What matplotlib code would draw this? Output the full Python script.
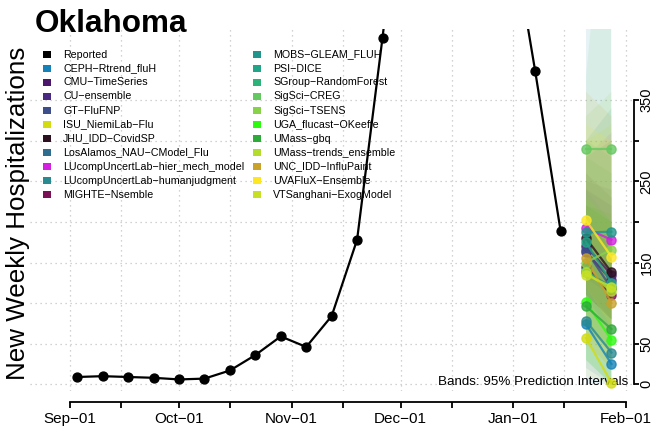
import numpy as np
import matplotlib
matplotlib.use("Agg")
import matplotlib.pyplot as plt
import matplotlib.dates as mdates
from matplotlib.patches import Rectangle

plt.rcParams['font.family'] = ['Liberation Sans', 'DejaVu Sans']

# ---- observed weekly hospitalizations (weeks ending Saturday) ----
reported_dates = np.arange(np.datetime64('2022-09-03'), np.datetime64('2023-01-15'), np.timedelta64(7, 'D'))
reported_values = [9, 10, 9, 8, 6, 7, 17, 36, 59, 46, 84, 178, 427,
                   690, 780, 720, 640, 573, 386, 189]

# ---- forecasts: two horizons ----
forecast_dates = np.array(['2023-01-21', '2023-01-28'], dtype='datetime64[D]')

models = ["CEPH−Rtrend_fluH", "CMU−TimeSeries", "CU−ensemble", "GT−FluFNP",
          "ISU_NiemiLab−Flu", "JHU_IDD−CovidSP", "LosAlamos_NAU−CModel_Flu",
          "LUcompUncertLab−hier_mech_model", "LUcompUncertLab−humanjudgment",
          "MIGHTE−Nsemble", "MOBS−GLEAM_FLUH", "PSI−DICE", "SGroup−RandomForest",
          "SigSci−CREG", "SigSci−TSENS", "UGA_flucast−OKeeffe", "UMass−gbq",
          "UMass−trends_ensemble", "UNC_IDD−InfluPaint", "UVAFluX−Ensemble",
          "VTSanghani−ExogModel"]

model_colors = ["#1482b8", "#4b176b", "#4a2a80", "#3d4e8a", "#d2dc10", "#2c1020",
                "#2f6d8e", "#d21fe0", "#2a8a92", "#7a1055", "#21958b", "#22a486",
                "#2db37a", "#64c860", "#88d24a", "#2cfb10", "#2eaa3a", "#b4dc2c",
                "#c8a22a", "#fde725", "#c8e024"]

median_wk1 = [74, 170, 163, 165, 57, 180, 138, 192, 78, 145, 187, 175, 140,
              290, 150, 101, 96, 138, 155, 202, 135]
median_wk2 = [25, 135, 128, 118, 2, 138, 120, 178, 39, 110, 188, 125, 118,
              290, 166, 55, 68, 115, 100, 157, 120]

lower_wk1 = [0, 110, 100, 120, 10, 110, 70, 130, 20, 110, 130, 110, 70,
             180, 70, 30, 30, 60, 50, 120, 50]
upper_wk1 = [600, 240, 250, 220, 220, 260, 280, 280, 240, 200, 300, 300, 280,
             380, 330, 230, 220, 300, 360, 320, 300]
lower_wk2 = [0, 80, 70, 80, 0, 80, 40, 110, 0, 80, 110, 60, 40,
             120, 50, 0, 0, 30, 20, 70, 20]
upper_wk2 = [600, 220, 240, 200, 200, 230, 300, 310, 200, 170, 340, 280, 260,
             700, 360, 200, 210, 300, 330, 300, 320]

y_ticks = [0, 50, 100, 150, 200, 250, 300, 350]
y_tick_labels = ["0", "50", "", "150", "", "250", "", "350"]

# ---- figure geometry ----
W, H = 656, 436
fig = plt.figure(figsize=(W / 100, H / 100), dpi=100)
ax_left, ax_right, ax_top, ax_bottom = 30, 634, 29, 391
ax = fig.add_axes([ax_left / W, 1 - ax_bottom / H,
                   (ax_right - ax_left) / W, (ax_bottom - ax_top) / H])

x_start = mdates.date2num(np.datetime64('2022-09-01'))
x_end = mdates.date2num(np.datetime64('2023-02-01'))
px_per_day = (626 - 70) / (x_end - x_start)
ax.set_xlim(x_start + (ax_left - 70) / px_per_day, x_end + (ax_right - 626) / px_per_day)

zero_px, px_per_unit = 384.3, 0.812
ax.set_ylim((zero_px - ax_bottom) / px_per_unit, (zero_px - ax_top) / px_per_unit)

# ---- grid ----
grid_kw = dict(color='#c4c4c4', lw=0.9, ls=(0, (1, 3)), zorder=0)
for yv in y_ticks:
    ax.axhline(yv, **grid_kw)
grid_days = []
for m in ['2022-09', '2022-10', '2022-11', '2022-12', '2023-01']:
    grid_days += [np.datetime64(m + '-01'), np.datetime64(m + '-15')]
grid_days.append(np.datetime64('2023-02-01'))
for d in grid_days:
    ax.axvline(mdates.date2num(d), **grid_kw)

# ---- prediction bands ----
fx = mdates.date2num(forecast_dates)
for i, c in enumerate(model_colors):
    ax.fill([fx[0], fx[1], fx[1], fx[0]],
            [lower_wk1[i], lower_wk2[i], upper_wk2[i], upper_wk1[i]],
            color=c, alpha=0.1, lw=0, zorder=1)

ax.text(x_end + (628 - 626) / px_per_day, (zero_px - 382) / px_per_unit,
        "Bands: 95% Prediction Intervals", ha='right', va='center',
        fontsize=9.6, zorder=2)

# ---- reported series ----
ax.plot(mdates.date2num(reported_dates), reported_values, color='black', lw=1.6,
        marker='o', ms=6.4, zorder=3)

# ---- forecast medians ----
for i, c in enumerate(model_colors):
    ax.plot(fx, [median_wk1[i], median_wk2[i]], color=c, lw=1.6, marker='o',
            ms=6.6, alpha=0.8, zorder=4)

# ---- axes styling ----
for s in ['top', 'left']:
    ax.spines[s].set_visible(False)
ax.spines['bottom'].set_position(('outward', 8))
ax.spines['bottom'].set_bounds(x_start, x_end)
ax.spines['right'].set_bounds(0, 350)
for s in ['bottom', 'right']:
    ax.spines[s].set_linewidth(1.3)

ax.xaxis.set_major_locator(mdates.MonthLocator(bymonthday=1))
ax.xaxis.set_minor_locator(mdates.MonthLocator(bymonthday=15))
ax.xaxis.set_major_formatter(mdates.DateFormatter('%b−%d'))
ax.tick_params(axis='x', which='both', length=4, width=1.3, labelsize=11, pad=3)

ax.yaxis.tick_right()
ax.set_yticks(y_ticks)
ax.set_yticklabels(y_tick_labels)
ax.tick_params(axis='y', which='major', length=3.5, width=1.3, labelsize=10.5,
               labelrotation=90, pad=0.5)
for lbl in ax.get_yticklabels():
    lbl.set_va('center')

# ---- titles ----
fig.text(35 / W, 1 - 32 / H, "Oklahoma", fontsize=22.7, fontweight='bold',
         ha='left', va='baseline')
fig.text(18 / W, 1 - 213 / H, "New Weekly Hospitalizations", fontsize=18.7,
         rotation=90, ha='center', va='center')

# ---- legend (two columns) ----
legend_labels = ["Reported"] + models
legend_colors = ["black"] + model_colors
row_y = [54.5, 68.5, 82.3, 96.3, 110.5, 124.5, 138.5, 152.5, 166.5, 180.5, 194.5]
col_sq = [47, 257]
col_tx = [63, 273]
sq = 7.5
for k, (lab, col) in enumerate(zip(legend_labels, legend_colors)):
    c_i, r_i = divmod(k, 11)
    yc = row_y[r_i]
    fig.patches.append(Rectangle(((col_sq[c_i] - sq / 2) / W, 1 - (yc + sq / 2) / H),
                                 sq / W, sq / H, transform=fig.transFigure,
                                 facecolor=col, edgecolor='none', zorder=5))
    fig.text(col_tx[c_i] / W, 1 - yc / H, lab, fontsize=7.7, ha='left',
             va='center', zorder=5)

fig.savefig("out.png", dpi=100)
